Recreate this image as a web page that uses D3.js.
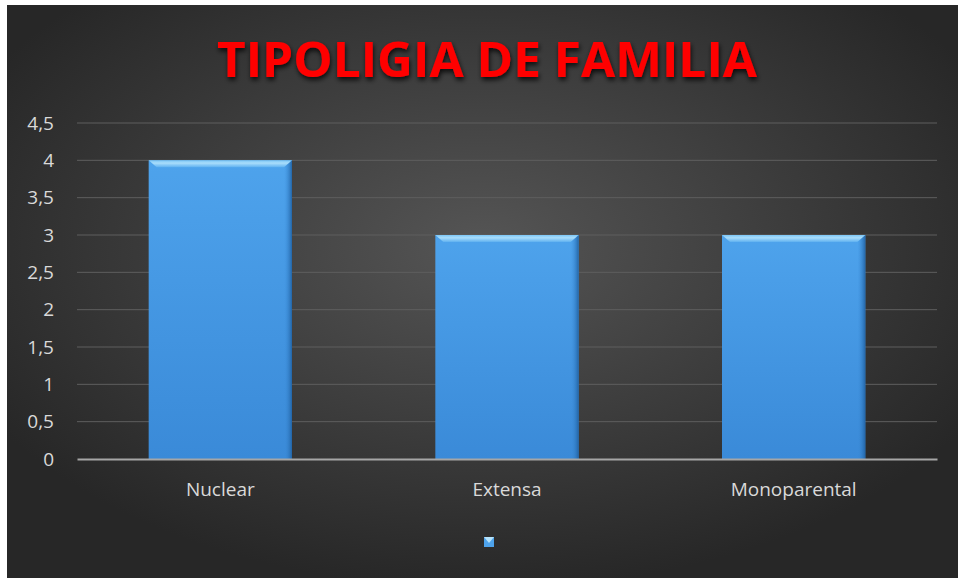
<!DOCTYPE html>
<html>
<head>
<meta charset="utf-8">
<script src="https://cdn.jsdelivr.net/npm/d3@7"></script>
<style>
  body { margin: 0; background: #fff; }
  svg { display: block; }
</style>
</head>
<body>
<script>
// data
const categories = ["Nuclear", "Extensa", "Monoparental"];
const values = [4, 3, 3];
const yTicks = [0, 0.5, 1, 1.5, 2, 2.5, 3, 3.5, 4, 4.5];
const titleText = "TIPOLIGIA DE FAMILIA";

const W = 958, H = 578;
const margin = {top: 123, right: 21, bottom: 119, left: 77};
const width = W - margin.left - margin.right,
    height = H - margin.top - margin.bottom;

const svg = d3.select("body").append("svg")
    .attr("width", W)
    .attr("height", H);

const defs = svg.append("defs");

// background radial gradient
const bg = defs.append("radialGradient").attr("id", "bg")
    .attr("cx", "50%").attr("cy", "42%").attr("r", "60%");
bg.append("stop").attr("offset", "0%").attr("stop-color", "#555555");
bg.append("stop").attr("offset", "100%").attr("stop-color", "#272727");

// bar body gradient (vertical)
const barV = defs.append("linearGradient").attr("id", "barV")
    .attr("x1", 0).attr("y1", 0).attr("x2", 0).attr("y2", 1);
barV.append("stop").attr("offset", "0%").attr("stop-color", "#4ea3ec");
barV.append("stop").attr("offset", "100%").attr("stop-color", "#3a8ad8");

// right side shade
const barR = defs.append("linearGradient").attr("id", "barR")
    .attr("x1", 0).attr("y1", 0).attr("x2", 1).attr("y2", 0);
barR.append("stop").attr("offset", "0%").attr("stop-color", "#3d8fdc").attr("stop-opacity", 0);
barR.append("stop").attr("offset", "100%").attr("stop-color", "#1f5f9f").attr("stop-opacity", 0.9);

// top bevel gradient
const barT = defs.append("linearGradient").attr("id", "barT")
    .attr("x1", 0).attr("y1", 0).attr("x2", 0).attr("y2", 1);
barT.append("stop").attr("offset", "0%").attr("stop-color", "#7cc6f6");
barT.append("stop").attr("offset", "40%").attr("stop-color", "#a9ddfb");
barT.append("stop").attr("offset", "100%").attr("stop-color", "#5fb1f0");

const shadow = defs.append("filter").attr("id", "tshadow")
    .attr("x", "-10%").attr("y", "-20%").attr("width", "120%").attr("height", "150%");
shadow.append("feDropShadow").attr("dx", 1).attr("dy", 3)
    .attr("stdDeviation", 2.5).attr("flood-color", "#000").attr("flood-opacity", 0.8);

// chart area background
svg.append("rect")
    .attr("x", 7).attr("y", 5)
    .attr("width", W - 7).attr("height", H - 5)
    .attr("fill", "url(#bg)");

// title
svg.append("text")
    .attr("x", 487)
    .attr("y", 77)
    .attr("text-anchor", "middle")
    .attr("textLength", 540)
    .attr("lengthAdjust", "spacingAndGlyphs")
    .attr("font-family", "'Open Sans', sans-serif")
    .attr("font-weight", "bold")
    .attr("font-size", 49)
    .attr("fill", "#ff0000")
    .attr("filter", "url(#tshadow)")
    .text(titleText);

const g = svg.append("g")
    .attr("transform", `translate(${margin.left},${margin.top})`);

// scales
const x = d3.scaleBand()
    .domain(categories)
    .range([0, width])
    .paddingInner(0.5)
    .paddingOuter(0.25);

const y = d3.scaleLinear()
    .domain([0, 4.5])
    .range([height, 0]);

// gridlines
g.append("g")
    .selectAll("line")
    .data(yTicks.filter(d => d > 0))
    .join("line")
        .attr("x1", 0).attr("x2", width)
        .attr("y1", d => y(d)).attr("y2", d => y(d))
        .attr("stroke", "#5e5e5e")
        .attr("stroke-width", 1);

// y axis labels
const fmt = d => String(d).replace(".", ",");
const yAxis = g.append("g")
    .call(d3.axisLeft(y).tickValues(yTicks).tickFormat(fmt).tickSize(0).tickPadding(23));
yAxis.select(".domain").remove();
yAxis.selectAll("text")
    .attr("fill", "#d9d9d9")
    .attr("font-family", "'Open Sans', sans-serif")
    .attr("font-size", 19);

// bars
const bars = g.append("g").selectAll("g")
    .data(values)
    .join("g");

bars.append("rect")
    .attr("x", (d, i) => x(categories[i]))
    .attr("y", d => y(d))
    .attr("width", x.bandwidth())
    .attr("height", d => height - y(d))
    .attr("fill", "url(#barV)");

// right side bevel
bars.append("rect")
    .attr("x", (d, i) => x(categories[i]) + x.bandwidth() - 8)
    .attr("y", d => y(d))
    .attr("width", 8)
    .attr("height", d => height - y(d))
    .attr("fill", "url(#barR)");

// top bevel highlight (trapezoid)
bars.append("path")
    .attr("d", (d, i) => {
        const x0 = x(categories[i]), x1 = x0 + x.bandwidth(), y0 = y(d);
        return `M${x0},${y0}L${x1},${y0}L${x1 - 8},${y0 + 7}L${x0 + 8},${y0 + 7}Z`;
    })
    .attr("fill", "url(#barT)");

// x axis
const xAxis = g.append("g")
    .attr("transform", `translate(0,${height})`)
    .call(d3.axisBottom(x).tickSize(0).tickPadding(24));
xAxis.select(".domain")
    .attr("stroke", "#a6a6a6")
    .attr("stroke-width", 2);
xAxis.selectAll("text")
    .attr("fill", "#d9d9d9")
    .attr("font-family", "'Open Sans', sans-serif")
    .attr("font-size", 19);

// legend marker (no label)
const legend = svg.append("g").attr("transform", "translate(489,542)");
legend.append("rect")
    .attr("x", -5).attr("y", -5)
    .attr("width", 10).attr("height", 10)
    .attr("fill", "#4ea3ec");
legend.append("path")
    .attr("d", "M-5,-5L5,-5L0,1Z")
    .attr("fill", "#b5e2fb");
</script>
</body>
</html>
